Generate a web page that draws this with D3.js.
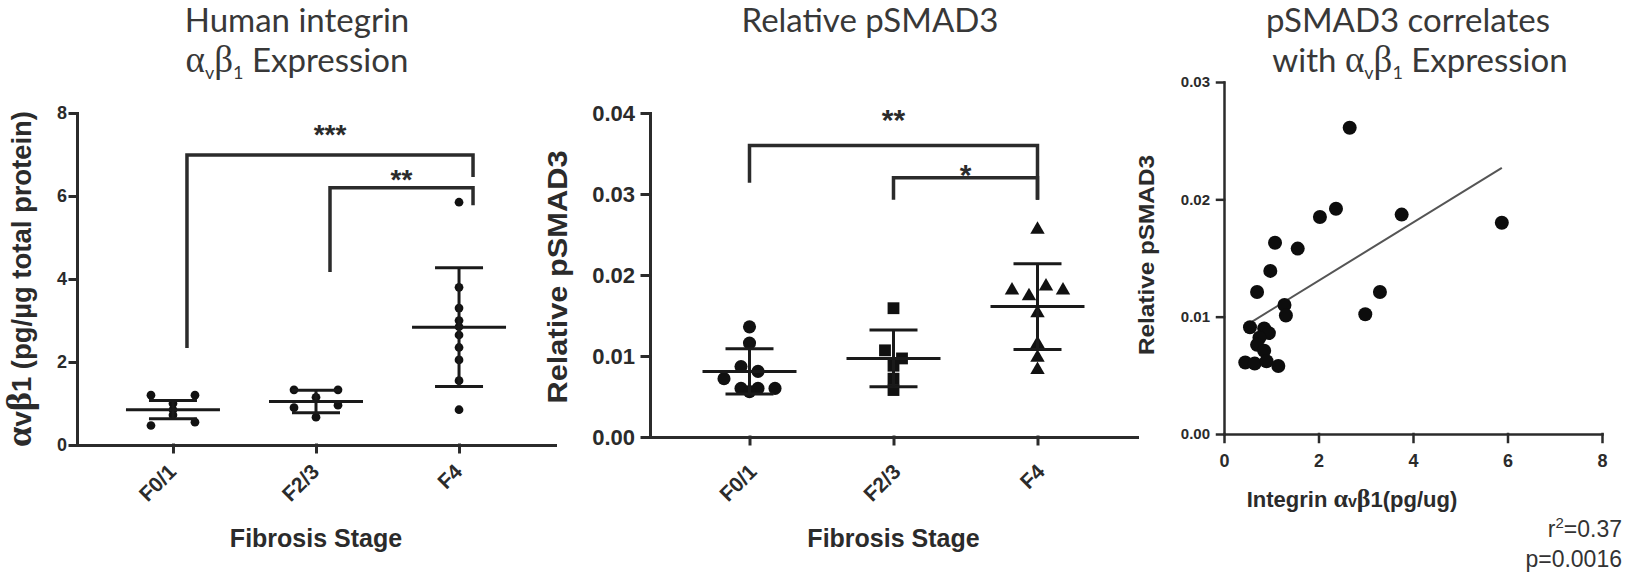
<!DOCTYPE html>
<meta charset="utf-8">
<style>
body { margin: 0; background: #fff; }
svg { display: block; }
.title { font-family: Lato, "Open Sans", sans-serif; font-size: 33px; fill: #383838; }
.greek { font-family: "Liberation Serif", "DejaVu Serif", serif; }
.lab { font-family: "Liberation Sans", Arial, sans-serif; font-weight: bold; fill: #2b2b2b; }
.stat { font-family: "Liberation Sans", Arial, sans-serif; fill: #333; }
</style>
<svg width="1632" height="575"></svg>
<script src="https://d3js.org/d3.v7.min.js"></script>
<script>

var stages = ["F0/1", "F2/3", "F4"];

// integrin avb1, pg/ug total protein
var integrinF01 = [1.2, 1.2, 1.0, 0.85, 0.72, 0.47, 0.55];
var integrinF23 = [1.33, 1.33, 1.15, 0.9, 0.96, 0.67];
var integrinF4 = [5.85, 3.8, 3.3, 3.0, 2.85, 2.65, 2.35, 2.05, 1.55, 0.85];
var integrinMean = [0.85, 1.05, 2.84];
var integrinSD = [0.22, 0.27, 1.43];

// relative pSMAD3
var smadF01 = [0.0136, 0.0116, 0.0087, 0.0081, 0.0072, 0.0060, 0.0060, 0.0060, 0.0056];
var smadF23 = [0.0159, 0.0107, 0.0097, 0.0088, 0.0072, 0.0058];
var smadF4 = [0.0256, 0.0181, 0.0174, 0.0186, 0.0181, 0.0153, 0.0115, 0.0098, 0.0083];
var smadMean = [0.0081, 0.0097, 0.0161];
var smadSD = [0.0028, 0.0035, 0.0053];

// significance brackets: from, to, top, left end, right end, stars, star level
var integrinBrackets = [[0, 2, 6.99, 2.34, 6.46, "***", 7.64], [1, 2, 6.2, 4.17, 5.78, "**", 6.55]];
var smadBrackets = [[0, 2, 0.036, 0.0314, 0.0293, "**", 0.0400], [1, 2, 0.032, 0.0293, 0.0293, "*", 0.0332]];

// correlation
var corrX = [5.88, 3.76, 3.30, 2.99, 2.66, 2.37, 2.03, 1.56, 1.08, 0.98, 0.70, 1.28, 1.31,
             0.55, 0.85, 0.95, 0.75, 0.70, 0.85, 0.45, 0.65, 0.90, 1.15];
var corrY = [0.0180, 0.0187, 0.0121, 0.0102, 0.0261, 0.0192, 0.0185, 0.0158, 0.0163, 0.0139, 0.0121, 0.0110, 0.0101,
             0.0091, 0.0090, 0.0086, 0.0082, 0.0076, 0.0071, 0.0061, 0.0060, 0.0062, 0.0058];
var fitLine = [0.00248, 0.0081]; // slope, intercept
var corrStats = ["0.37", "0.0016"];

var svg = d3.select("svg");
var ink = "#2b2b2b";

// spread points that sit on the same level sideways, like a column scatter
function spread(values, y, tol, gap) {
  var idx = d3.range(values.length).sort((a, b) => values[b] - values[a]);
  var off = values.map(() => 0), row = [];
  function flush() {
    row.sort(d3.ascending);
    row.forEach((k, j) => off[k] = (j - (row.length - 1) / 2) * gap);
  }
  idx.forEach(k => {
    if (row.length && Math.abs(y(values[k]) - y(values[row[0]])) >= tol) { flush(); row = []; }
    row.push(k);
  });
  flush();
  return off;
}

function styleAxis(a, w) {
  a.attr("font-family", null).attr("font-size", null);
  a.selectAll("path, line").attr("stroke", ink).attr("stroke-width", w).attr("stroke-linecap", "square");
  a.selectAll("text").attr("class", "lab").attr("fill", ink);
}

function rich(sel, parts) {
  parts.forEach(p => {
    var t = sel.append("tspan").text(p[0]);
    if (p[1]) t.attr("class", p[1]);
    if (p[2]) t.attr("font-size", p[2]);
    if (p[3]) t.attr("dy", p[3]);
  });
}

function dotPanel(p) {
  var x = d3.scalePoint().domain(stages).range([p.x0, p.x1]).padding(p.pad);
  var y = d3.scaleLinear().domain(p.yDomain).range([p.y0, p.y1]);
  var g = svg.append("g");

  var yAxis = g.append("g").attr("transform", "translate(" + p.x0 + ",0)")
    .call(d3.axisLeft(y).tickValues(p.yTicks).tickFormat(p.fmt)
      .tickSize(p.tick).tickSizeOuter(0).tickPadding(p.tickPad));
  var xAxis = g.append("g").attr("transform", "translate(0," + p.y0 + ")")
    .call(d3.axisBottom(x).tickSize(7).tickSizeOuter(0));
  styleAxis(yAxis, 3);
  styleAxis(xAxis, 3);
  yAxis.selectAll("text").attr("font-size", p.yFont);
  xAxis.selectAll("text").attr("font-size", 21).attr("text-anchor", "end")
    .attr("x", 0).attr("y", 0).attr("dy", null)
    .attr("transform", "translate(" + p.lx + "," + p.ly + ") rotate(-45)");

  // points
  p.groups.forEach((vals, i) => {
    var off = spread(vals, y, p.tol, p.gap);
    g.append("g").selectAll("path").data(vals).join("path")
      .attr("transform", (d, j) => "translate(" + (x(stages[i]) + off[j]) + "," + y(d) + ")")
      .attr("d", d3.symbol(p.shapes[i], p.sizes[i]))
      .attr("fill", "#111");
  });

  // mean and SD
  stages.forEach((s, i) => {
    var cx = x(s), m = p.mean[i], sd = p.sd[i];
    var segs = [[cx - 47, m, cx + 47, m], [cx - 24, m + sd, cx + 24, m + sd],
                [cx - 24, m - sd, cx + 24, m - sd], [cx, m + sd, cx, m - sd]];
    g.append("g").selectAll("line").data(segs).join("line")
      .attr("x1", d => d[0]).attr("y1", d => y(d[1]))
      .attr("x2", d => d[2]).attr("y2", d => y(d[3]))
      .attr("stroke", "#1a1a1a").attr("stroke-width", 3);
  });

  // brackets
  p.brackets.forEach(b => {
    var xa = x(stages[b[0]]) + p.bOff, xb = x(stages[b[1]]) + p.bOff;
    g.append("path")
      .attr("d", d3.line()([[xa, y(b[3])], [xa, y(b[2])], [xb, y(b[2])], [xb, y(b[4])]]))
      .attr("fill", "none").attr("stroke", ink).attr("stroke-width", 3.5);
    g.append("text").attr("class", "lab").attr("text-anchor", "middle")
      .attr("font-size", p.starFont)
      .attr("x", (xa + xb) / 2).attr("y", y(b[6])).attr("dy", "0.58em")
      .text(b[5]);
  });

  g.append("text").attr("class", "lab").attr("font-size", 25).attr("text-anchor", "middle")
    .attr("x", (x(stages[0]) + x(stages[2])) / 2).attr("y", 547).text("Fibrosis Stage");
  return g;
}

// panel 1
dotPanel({
  x0: 77, x1: 555, pad: 0.671, y0: 445, y1: 113, yDomain: [0, 8],
  yTicks: [0, 2, 4, 6, 8], fmt: d3.format("d"), tick: 7, tickPad: 3, yFont: 18,
  lx: 4, ly: 28,
  groups: [integrinF01, integrinF23, integrinF4],
  shapes: [d3.symbolCircle, d3.symbolCircle, d3.symbolCircle], sizes: [60, 60, 60],
  tol: 4, gap: 44, mean: integrinMean, sd: integrinSD,
  brackets: integrinBrackets, bOff: 14, starFont: 28
});

var t1 = svg.append("text").attr("class", "title").attr("text-anchor", "middle");
t1.append("tspan").attr("x", 297).attr("y", 32).text("Human integrin");
var t1b = svg.append("text").attr("class", "title").attr("text-anchor", "middle").attr("x", 297).attr("y", 72);
rich(t1b, [["α", "greek", 37], ["v", null, 18, 7], ["β", "greek", 37, -7], ["1", null, 18, 7], [" Expression", null, null, -7]]);

var yl1 = svg.append("text").attr("class", "lab").attr("font-size", 27).attr("text-anchor", "middle")
  .attr("transform", "translate(31,279) rotate(-90)")
  .attr("textLength", 336).attr("lengthAdjust", "spacingAndGlyphs");
rich(yl1, [["α", "greek", 36], ["v"], ["β", "greek", 36], ["1"], [" (pg/µg total protein)"]]);

// panel 2
dotPanel({
  x0: 650, x1: 1137, pad: 0.691, y0: 437, y1: 113, yDomain: [0, 0.04],
  yTicks: [0, 0.01, 0.02, 0.03, 0.04], fmt: d3.format(".2f"), tick: 8, tickPad: 7, yFont: 22,
  lx: 8, ly: 36,
  groups: [smadF01, smadF23, smadF4],
  shapes: [d3.symbolCircle, d3.symbolSquare, d3.symbolTriangle], sizes: [135, 140, 90],
  tol: 10, gap: 17, mean: smadMean, sd: smadSD,
  brackets: smadBrackets, bOff: 0, starFont: 30
});

svg.append("text").attr("class", "title").attr("text-anchor", "middle")
  .attr("x", 870).attr("y", 32).text("Relative pSMAD3");
svg.append("text").attr("class", "lab").attr("font-size", 27).attr("text-anchor", "middle")
  .attr("transform", "translate(567,277) rotate(-90)")
  .attr("textLength", 253).attr("lengthAdjust", "spacingAndGlyphs")
  .text("Relative pSMAD3");

// panel 3
(function () {
  var x = d3.scaleLinear().domain([0, 8]).range([1224, 1602]);
  var y = d3.scaleLinear().domain([0, 0.03]).range([434, 82]);
  var g = svg.append("g");

  var xa = g.append("g").attr("transform", "translate(0,434)")
    .call(d3.axisBottom(x).tickValues([0, 2, 4, 6, 8]).tickFormat(d3.format("d"))
      .tickSize(8).tickSizeOuter(0).tickPadding(12));
  var ya = g.append("g").attr("transform", "translate(1224,0)")
    .call(d3.axisLeft(y).tickValues([0, 0.01, 0.02, 0.03]).tickFormat(d3.format(".2f"))
      .tickSize(7).tickSizeOuter(0).tickPadding(7));
  styleAxis(xa, 2.5);
  styleAxis(ya, 2.5);
  xa.selectAll("text").attr("font-size", 18);
  ya.selectAll("text").attr("font-size", 15);

  var xr = d3.extent(corrX);
  g.append("line")
    .attr("x1", x(xr[0])).attr("y1", y(fitLine[1] + fitLine[0] * xr[0]))
    .attr("x2", x(xr[1])).attr("y2", y(fitLine[1] + fitLine[0] * xr[1]))
    .attr("stroke", "#555").attr("stroke-width", 2);

  g.append("g").selectAll("circle").data(corrX).join("circle")
    .attr("cx", d => x(d)).attr("cy", (d, i) => y(corrY[i])).attr("r", 7)
    .attr("fill", "#0d0d0d");

  var xl = g.append("text").attr("class", "lab").attr("font-size", 22).attr("text-anchor", "middle")
    .attr("x", 1352).attr("y", 507);
  rich(xl, [["Integrin "], ["α", "greek", 26], ["v", null, 16], ["β", "greek", 26], ["1(pg/ug)"]]);

  g.append("text").attr("class", "lab").attr("font-size", 22).attr("text-anchor", "middle")
    .attr("transform", "translate(1154,255) rotate(-90)")
    .attr("textLength", 200).attr("lengthAdjust", "spacingAndGlyphs")
    .text("Relative pSMAD3");

  var s1 = g.append("text").attr("class", "stat").attr("font-size", 23).attr("text-anchor", "end")
    .attr("x", 1622).attr("y", 537);
  rich(s1, [["r"], ["2", null, 15, -9], ["=" + corrStats[0], null, null, 9]]);
  g.append("text").attr("class", "stat").attr("font-size", 23).attr("text-anchor", "end")
    .attr("x", 1622).attr("y", 567).text("p=" + corrStats[1]);
})();

var t3 = svg.append("text").attr("class", "title").attr("text-anchor", "middle");
t3.append("tspan").attr("x", 1408).attr("y", 32).text("pSMAD3 correlates");
var t3b = svg.append("text").attr("class", "title").attr("text-anchor", "middle").attr("x", 1420).attr("y", 72);
rich(t3b, [["with "], ["α", "greek", 37], ["v", null, 18, 7], ["β", "greek", 37, -7], ["1", null, 18, 7], [" Expression", null, null, -7]]);

</script>
